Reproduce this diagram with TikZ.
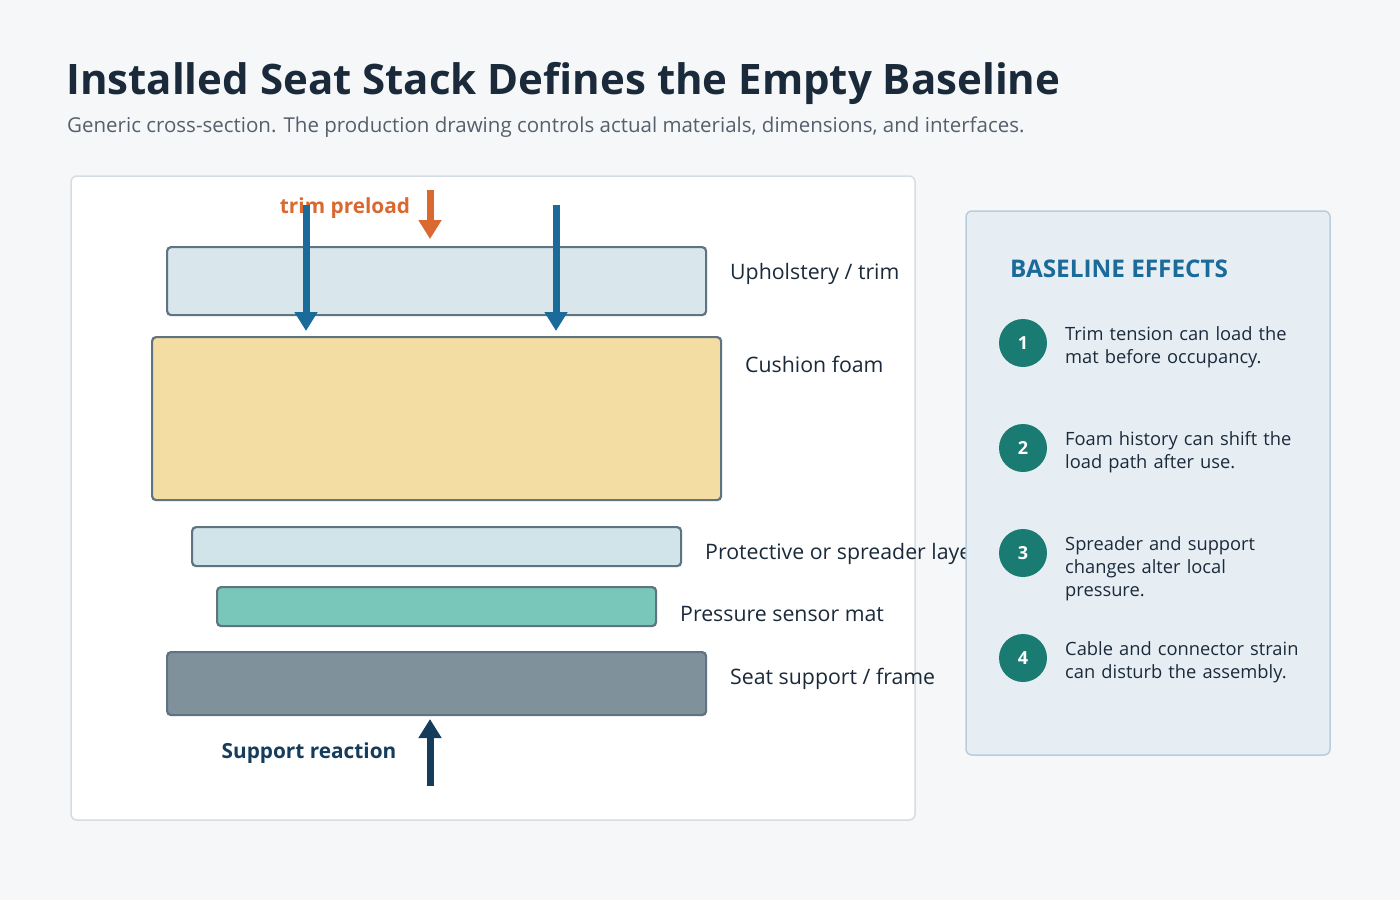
\documentclass[tikz,border=0pt]{standalone}
\usepackage{fontspec}
\setmainfont{Open Sans}
\usepackage{tikz}
\usetikzlibrary{arrows.meta}
\usetikzlibrary{positioning}
\definecolor{pageBg}{HTML}{F5F7F9}
\definecolor{panelEdge}{HTML}{D5DCE2}
\definecolor{sideFill}{HTML}{E6EEF4}
\definecolor{sideEdge}{HTML}{B8CFDB}
\definecolor{layerEdge}{HTML}{5F7480}
\definecolor{trimFill}{HTML}{D9E6EC}
\definecolor{foamFill}{HTML}{F3DDA2}
\definecolor{spreadFill}{HTML}{D0E4EA}
\definecolor{matFill}{HTML}{78C7BA}
\definecolor{frameFill}{HTML}{7F929C}
\definecolor{inkDark}{HTML}{1B2A3A}
\definecolor{inkGrey}{HTML}{55606C}
\definecolor{loadBlue}{HTML}{1A6A9A}
\definecolor{loadOrange}{HTML}{D9692F}
\definecolor{reactNavy}{HTML}{163C5C}
\definecolor{badgeTeal}{HTML}{1A7B73}

\begin{document}
\begin{tikzpicture}[x=1pt,y=-1pt]
\tikzset{LayerBox/.style={
  draw=layerEdge,
  line width=2.2pt,
  rounded corners=4pt,
  inner sep=0pt,
  anchor=north west,
}}
\tikzset{LayerLabel/.style={
  anchor=west,
  inner sep=0pt,
  text=inkDark,
  font=\fontsize{21.3}{25}\selectfont,
}}
\tikzset{LoadArrow/.style={
  line width=7pt,
  -{Triangle[width=22pt,length=19pt]},
}}
\tikzset{Badge/.style={
  circle,
  fill=badgeTeal,
  minimum size=48pt,
  inner sep=0pt,
  text=white,
  font=\fontsize{18}{20}\selectfont\bfseries,
}}
\tikzset{EffectText/.style={
  anchor=north west,
  inner sep=0pt,
  text width=250pt,
  align=left,
  text=inkDark,
  font=\fontsize{18.3}{23}\selectfont,
}}

% page and panels
\fill[pageBg] (0,0) rectangle (1400,900);
\useasboundingbox (0,0) rectangle (1400,900);
\node[anchor=base west, inner sep=0pt, text=inkDark, font=\fontsize{42}{48}\selectfont\bfseries] (title) at (66,94) {Installed Seat Stack Defines the Empty Baseline};
\node[anchor=base west, inner sep=0pt, text=inkGrey, font=\fontsize{20.5}{24}\selectfont] (subtitle) at (67,132) {Generic cross-section. The production drawing controls actual materials, dimensions, and interfaces.};
\draw[panelEdge, line width=1.5pt, fill=white, rounded corners=6pt] (71,176) rectangle (915,820);

% layer stack
\node[LayerBox, fill=trimFill, minimum width=539pt, minimum height=68pt] (upholstery) at (166,246) {};
\node[LayerBox, fill=foamFill, minimum width=569pt, minimum height=163pt] (cushion) at (151,336) {};
\node[LayerBox, fill=spreadFill, minimum width=489pt, minimum height=39pt] (spreader) at (191,526) {};
\node[LayerBox, fill=matFill, minimum width=439pt, minimum height=39pt] (sensormat) at (216,586) {};
\node[LayerBox, fill=frameFill, minimum width=539pt, minimum height=63pt] (frame) at (166,651) {};

\node[LayerLabel] (upholsteryLabel) at (730,274) {Upholstery / trim};
\node[LayerLabel] (cushionLabel) at (745,364) {Cushion foam};
\node[LayerLabel] (spreaderLabel) at (705,554) {Protective or spreader layer};
\node[LayerLabel] (sensormatLabel) at (680,614) {Pressure sensor mat};
\node[LayerLabel] (frameLabel) at (730,679) {Seat support / frame};

% loads
\node[anchor=center, inner sep=0pt, text=loadOrange, font=\fontsize{20.8}{24}\selectfont\bfseries] (preloadLabel) at (345,208) {trim preload};
\coordinate (preloadTop) at (430,190);
\coordinate (preloadTip) at (430,239);
\draw[LoadArrow, loadOrange] (preloadTop) -- (preloadTip);
\coordinate (trimLeftTop) at (306,205);
\coordinate (trimLeftTip) at (306,331);
\coordinate (trimRightTop) at (556,205);
\coordinate (trimRightTip) at (556,331);
\draw[LoadArrow, loadBlue] (trimLeftTop) -- (trimLeftTip);
\draw[LoadArrow, loadBlue] (trimRightTop) -- (trimRightTip);

\node[anchor=center, inner sep=0pt, text=reactNavy, font=\fontsize{20.8}{24}\selectfont\bfseries] (reactionLabel) at (309,753) {Support reaction};
\coordinate (reactionFoot) at (430,786);
\coordinate (reactionTip) at (430,719);
\draw[LoadArrow, reactNavy] (reactionFoot) -- (reactionTip);

% side panel
\draw[sideEdge, line width=1.5pt, fill=sideFill, rounded corners=6pt] (966,211) rectangle (1330,755);
\node[anchor=west, inner sep=0pt, text=loadBlue, font=\fontsize{24.3}{28}\selectfont\bfseries] (effectsHead) at (1010,269) {BASELINE EFFECTS};

\node[Badge] (badge1) at (1023,343) {1};
\node[EffectText] (effect1) at (1065,326) {Trim tension can load the mat before occupancy.};
\node[Badge] (badge2) at (1023,448) {2};
\node[EffectText] (effect2) at (1065,431) {Foam history can shift the load path after use.};
\node[Badge] (badge3) at (1023,553) {3};
\node[EffectText, text width=200pt] (effect3) at (1065,536) {Spreader and support changes alter local pressure.};
\node[Badge] (badge4) at (1023,658) {4};
\node[EffectText] (effect4) at (1065,641) {Cable and connector strain can disturb the assembly.};
\end{tikzpicture}
\end{document}
